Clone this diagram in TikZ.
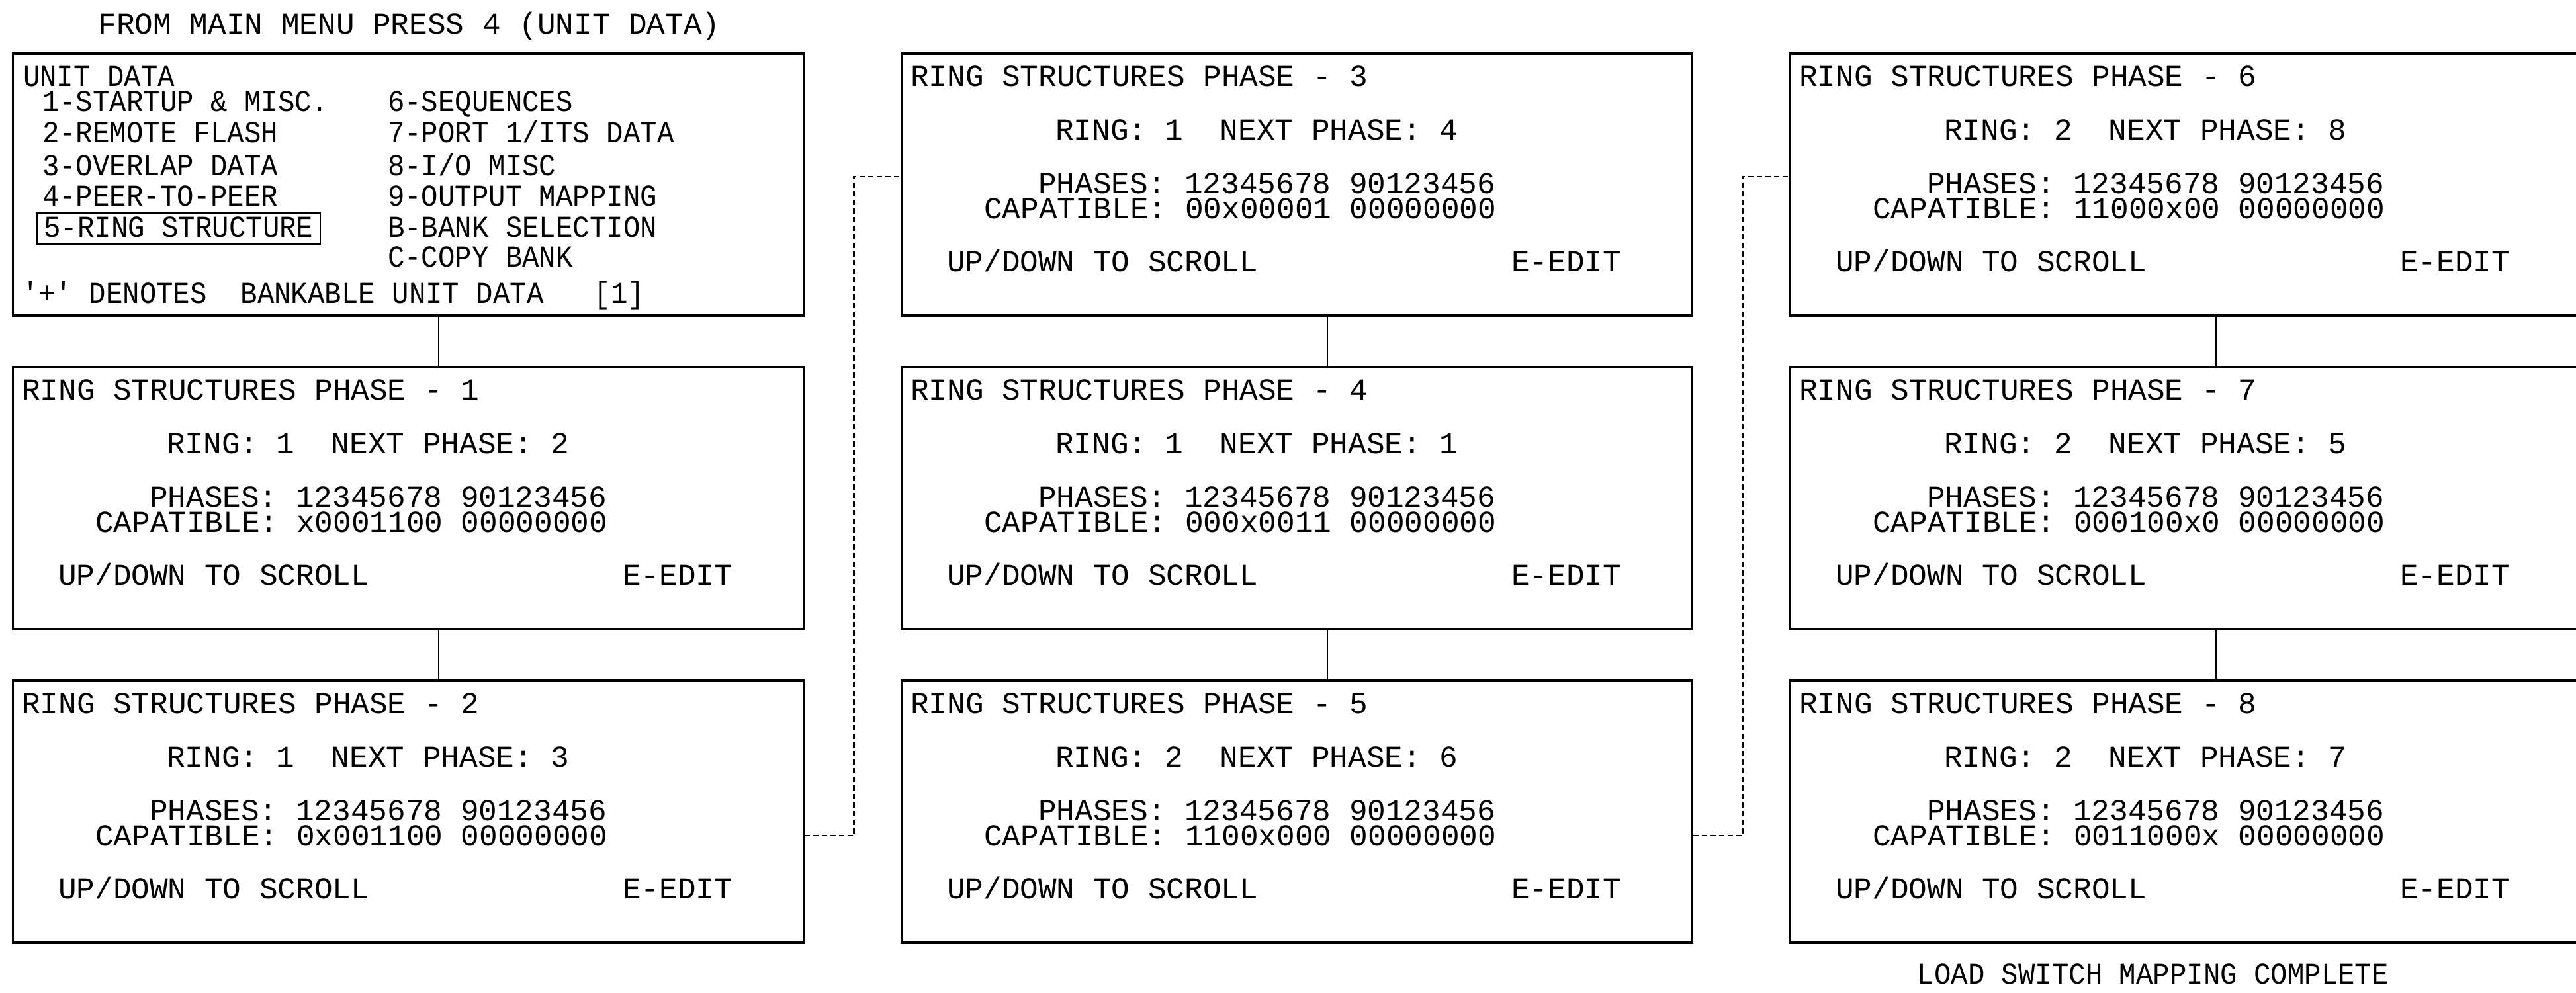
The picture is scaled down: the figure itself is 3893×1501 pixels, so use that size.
\documentclass[tikz,border=0pt]{standalone}
\usepackage{fontspec}
\newfontfamily\cadfont{Liberation Mono}
\newfontfamily\cadnarrow{Liberation Mono}[FakeStretch=0.92]
\usetikzlibrary{calc}
\tikzset{
  screen/.style={draw=black,line width=0.7pt,minimum width=11.94cm,
                 minimum height=3.94cm,inner sep=0pt},
  rim/.style   ={draw=black,line width=1.2pt},
  txt/.style   ={font=\cadfont\fontsize{13.1}{15}\selectfont,
                 inner sep=0pt,anchor=base west,text height=0.31cm,text depth=0pt},
  txtn/.style  ={font=\cadnarrow\fontsize{13.1}{15}\selectfont,
                 inner sep=0pt,anchor=base west,text height=0.31cm,text depth=0pt},
  link/.style  ={draw=black,line width=0.6pt},
  jump/.style  ={draw=black,line width=0.7pt,dash pattern=on 0.08cm off 0.05cm},
}

\begin{document}
\begin{tikzpicture}[x=0.01cm,y=-0.01cm]
\useasboundingbox (0,0) rectangle (3893,1501);
\fill[white] (0,0) rectangle (3893,1501);
% heading
\node[txt] (head) at (148,52) {FROM MAIN MENU PRESS 4 (UNIT DATA)};
% unit data menu
\node[screen] (ud) at (617,279) {};
\draw[rim] (ud.north west) -- (ud.north east) (ud.south west) -- (ud.south east);
\node[txtn] (ud0) at ($(ud.north west)+(16,50)$)  {UNIT DATA};
\node[txtn] (ud1) at ($(ud.north west)+(45,88)$)  {1-STARTUP \& MISC.};
\node[txtn] (ud2) at ($(ud.north west)+(45,135)$) {2-REMOTE FLASH};
\node[txtn] (ud3) at ($(ud.north west)+(45,185)$) {3-OVERLAP DATA};
\node[txtn] (ud4) at ($(ud.north west)+(45,231)$) {4-PEER-TO-PEER};
\node[txtn,draw,line width=0.6pt,inner xsep=0.11cm,text height=0.37cm,
      text depth=0.10cm] (ud5) at ($(ud.north west)+(36,278)$) {5-RING STRUCTURE};
\node[txtn] (ud6) at ($(ud.north west)+(567,88)$)  {6-SEQUENCES};
\node[txtn] (ud7) at ($(ud.north west)+(567,135)$) {7-PORT 1/ITS DATA};
\node[txtn] (ud8) at ($(ud.north west)+(567,185)$) {8-I/O MISC};
\node[txtn] (ud9) at ($(ud.north west)+(567,231)$) {9-OUTPUT MAPPING};
\node[txtn] (udB) at ($(ud.north west)+(567,278)$) {B-BANK SELECTION};
\node[txtn] (udC) at ($(ud.north west)+(567,323)$) {C-COPY BANK};
\node[txtn] (udn) at ($(ud.north west)+(14,378)$)  {'+' DENOTES\ \ BANKABLE UNIT DATA\ \ \ [1]};
% ring structure screens
\foreach \n/\c/\r/\ring/\nxt/\cap in {1/0/1/1/2/x0001100,2/0/2/1/3/0x001100,
    3/1/0/1/4/00x00001,4/1/1/1/1/000x0011,5/1/2/2/6/1100x000,
    6/2/0/2/8/11000x00,7/2/1/2/5/000100x0,8/2/2/2/7/0011000x}{
  \node[screen] (p\n) at ({617+\c*1343},{279+\r*474}) {};
  \draw[rim] (p\n.north west) -- (p\n.north east) (p\n.south west) -- (p\n.south east);
  \node[txt] (p\n a) at ($(p\n.north west)+(14,50)$)  {RING STRUCTURES PHASE - \n};
  \node[txt] (p\n b) at ($(p\n.north west)+(233,131)$) {RING: \ring\ \ NEXT PHASE: \nxt};
  \node[txt] (p\n c) at ($(p\n.north west)+(207,212)$) {PHASES: 12345678 90123456};
  \node[txt] (p\n d) at ($(p\n.north west)+(125,250)$) {CAPATIBLE: \cap\ 00000000};
  \node[txt] (p\n e) at ($(p\n.north west)+(69,330)$)  {UP/DOWN TO SCROLL};
  \node[txt] (p\n f) at ($(p\n.north west)+(922,330)$) {E-EDIT};
}
% solid links down each column
\foreach \a/\b in {ud/p1,p1/p2,p3/p4,p4/p5,p6/p7,p7/p8}
  \draw[link] ([xshift=0.46cm]\a.south) -- ([xshift=0.46cm]\b.north);
% jumps to the next column
\draw[jump] ([yshift=-0.36cm]p2.east) -- ++(75,0) |- ([yshift=0.12cm]p3.west);
\draw[jump] ([yshift=-0.36cm]p5.east) -- ++(75,0) |- ([yshift=0.12cm]p6.west);
% end note
\node[txtn] (done) at (2897,1487) {LOAD SWITCH MAPPING COMPLETE};
\end{tikzpicture}
\end{document}
